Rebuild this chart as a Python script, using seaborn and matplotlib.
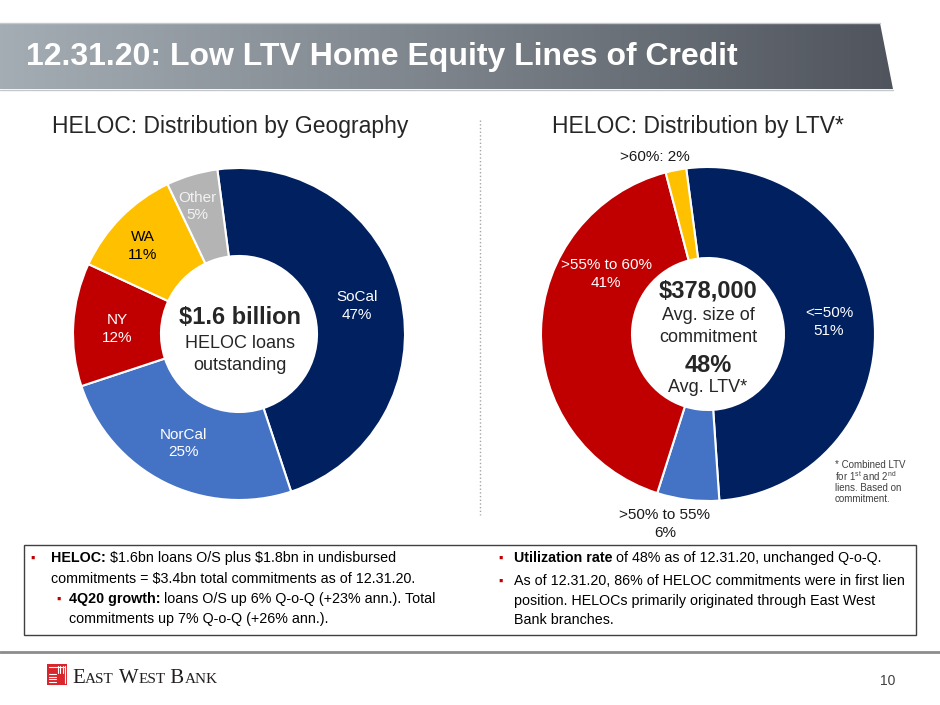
import numpy as np
import matplotlib
matplotlib.use('Agg')
import matplotlib.pyplot as plt
import seaborn as sns
from matplotlib.patches import Polygon, Rectangle
from matplotlib.colors import LinearSegmentedColormap

# ---- data ----
geo_names = ['SoCal', 'NorCal', 'NY', 'WA', 'Other']
geo_share = [47, 25, 12, 11, 5]
ltv_names = ['<=50%', '>50% to 55%', '>55% to 60%', '>60%']
ltv_share = [51, 6, 41, 2]

geo_colors = ['#002060', '#4472c4', '#c00000', '#ffc000', '#b4b4b4']
ltv_colors = ['#002060', '#4472c4', '#c00000', '#ffc000']

sns.set_theme(style='white')
plt.rcParams['font.family'] = ['Liberation Sans', 'DejaVu Sans']
plt.rcParams['mathtext.fontset'] = 'custom'
plt.rcParams['mathtext.rm'] = 'Liberation Sans'

W, H = 940, 705
fig = plt.figure(figsize=(9.4, 7.05), dpi=100)
bg = fig.add_axes([0, 0, 1, 1])
bg.axis('off')
renderer = fig.canvas.get_renderer()

# title bar with gradient
cmap = LinearSegmentedColormap.from_list('bar', ['#a4acb4', '#7c838b', '#50555d'])
im = bg.imshow(np.linspace(0, 1, 256)[None, :], cmap=cmap, extent=[0, 893, 89, 23], aspect='auto')
bar = Polygon([(0, 23), (880, 23), (893, 89), (0, 89)], closed=True, fc='none', ec='none')
bg.add_patch(bar)
im.set_clip_path(bar)
bg.plot([0, 880], [23, 23], color='#c4c8cc', lw=1)
bg.plot([0, 893], [89.5, 89.5], color='#c4c8cc', lw=1)
bg.set_xlim(0, W)
bg.set_ylim(H, 0)


def donut(cx, cy, r, hole, shares, colors, start):
    ax = fig.add_axes([(cx - r) / W, 1 - (cy + r) / H, 2 * r / W, 2 * r / H])
    wedges, _ = ax.pie(shares, colors=colors, startangle=start, counterclock=False,
                       wedgeprops=dict(width=1 - hole, edgecolor='white', linewidth=1.5))
    ax.set_xlim(-1, 1)
    ax.set_ylim(-1, 1)
    ax.set_frame_on(False)
    return ax, wedges


def wedge_labels(ax, wedges, texts, radii, offsets, colors):
    for w, txt, rr, off, c in zip(wedges, texts, radii, offsets, colors):
        a = np.deg2rad((w.theta1 + w.theta2) / 2 + off)
        ax.text(rr * np.cos(a), rr * np.sin(a), txt, ha='center', va='center',
                color=c, fontsize=11, linespacing=1.3)


# left donut: geography
axl, wl = donut(239, 334, 166, 0.47, geo_share, geo_colors, 97.5)
geo_text = [f'{n}\n{v}%' for n, v in zip(geo_names, geo_share)]
wedge_labels(axl, wl, geo_text, [0.73, 0.74, 0.735, 0.785, 0.81], [0.4, 0, 1, 2.2, 1.7],
             ['white', 'white', 'white', 'black', '#f2f2f2'])

# right donut: LTV
axr, wr = donut(708, 334, 167, 0.455, ltv_share, ltv_colors, 97.5)
ltv_text = [f'{ltv_names[0]}\n{ltv_share[0]}%', f'{ltv_names[1]}\n{ltv_share[1]}%',
            f'{ltv_names[2]}\n{ltv_share[2]}%', f'{ltv_names[3]}: {ltv_share[3]}%']
wedge_labels(axr, wr, ltv_text, [0.728, 1.167, 0.708, 1.107], [0, -5.9, -29, 5.6],
             ['white', '#1a1a1a', 'white', '#1a1a1a'])

# overlay for all slide text, drawn above the donuts
top = fig.add_axes([0, 0, 1, 1])
top.set_xlim(0, W)
top.set_ylim(H, 0)
top.axis('off')

top.text(26, 57, '12.31.20: Low LTV Home Equity Lines of Credit', color='white',
         fontsize=23, fontweight='bold', ha='left', va='center')

# subtitles + separator
top.text(52, 126, 'HELOC: Distribution by Geography', fontsize=16.5, color='#262626', va='center')
top.text(552, 126, 'HELOC: Distribution by LTV*', fontsize=16.5, color='#262626', va='center')
top.plot([480, 480], [120, 515], color='#a6a6a6', lw=1, ls=':')

# centre texts
top.text(240, 318, r'\$1.6 billion', fontsize=17, fontweight='bold', ha='center', va='center')
top.text(240, 343, 'HELOC loans', fontsize=13, ha='center', va='center')
top.text(240, 365, 'outstanding', fontsize=13, ha='center', va='center')
top.text(708, 291, r'\$378,000', fontsize=17, fontweight='bold', ha='center', va='center')
top.text(708, 316, 'Avg. size of', fontsize=13, ha='center', va='center')
top.text(708, 338, 'commitment', fontsize=13, ha='center', va='center')
top.text(708, 365, '48%', fontsize=17, fontweight='bold', ha='center', va='center')
top.text(708, 388, 'Avg. LTV*', fontsize=13, ha='center', va='center')

# footnote
fn = ['* Combined LTV', r'for 1$^{\mathregular{st}}$ and 2$^{\mathregular{nd}}$',
      'liens. Based on', 'commitment.']
for i, s in enumerate(fn):
    top.text(835, 465 + i * 11.5, s, fontsize=7, color='#404040', ha='left', va='center')


def runs(x, y, parts, size=10.3, color='#000000', family=None):
    for txt, weight, *sz in parts:
        t = top.text(x, y, txt, fontsize=sz[0] if sz else size, fontweight=weight,
                     color=color, ha='left', va='baseline', family=family)
        x += t.get_window_extent(renderer).width


def bullet(x, y):
    top.text(x, y, '\u25aa', color='#c00000', fontsize=9, ha='left', va='baseline')


# bottom box
top.add_patch(Rectangle((24, 545), 892, 90, fill=False, ec='#404040', lw=1))
bullet(30, 562)
runs(51, 562, [('HELOC:', 'bold'), (r' \$1.6bn loans O/S plus \$1.8bn in undisbursed', 'normal')])
runs(51, 583, [(r'commitments = \$3.4bn total commitments as of 12.31.20.', 'normal')])
bullet(56, 603)
runs(69, 603, [('4Q20 growth:', 'bold'), (' loans O/S up 6% Q-o-Q (+23% ann.). Total', 'normal')])
runs(69, 623, [('commitments up 7% Q-o-Q (+26% ann.).', 'normal')])
bullet(498, 562)
runs(514, 562, [('Utilization rate', 'bold'), (' of 48% as of 12.31.20, unchanged Q-o-Q.', 'normal')])
bullet(498, 585)
runs(514, 585, [('As of 12.31.20, 86% of HELOC commitments were in first lien', 'normal')])
runs(514, 605, [('position. HELOCs primarily originated through East West', 'normal')])
runs(514, 624, [('Bank branches.', 'normal')])

# footer
top.plot([0, W], [652, 652], color='#8c8c8c', lw=2)
top.add_patch(Rectangle((47, 664), 20, 21, fc='#d9262c', ec='none'))
for k in range(4):
    top.plot([49, 56], [674 + k * 2.6, 674 + k * 2.6], color='white', lw=0.8)
    top.plot([58 + k * 2.3, 58 + k * 2.3], [666, 673], color='white', lw=0.8)
top.plot([49, 65], [667, 667], color='white', lw=0.8)
top.plot([65, 65], [667, 683], color='white', lw=0.8)
runs(72, 683, [('E', 'normal', 15), ('AST', 'normal', 11), (' W', 'normal', 15),
               ('EST', 'normal', 11), (' B', 'normal', 15), ('ANK', 'normal', 11)],
     color='#231f20', family='Liberation Serif')
top.text(888, 681, '10', fontsize=10, color='#404040', ha='center', va='center')

fig.savefig('out.png', dpi=100)
